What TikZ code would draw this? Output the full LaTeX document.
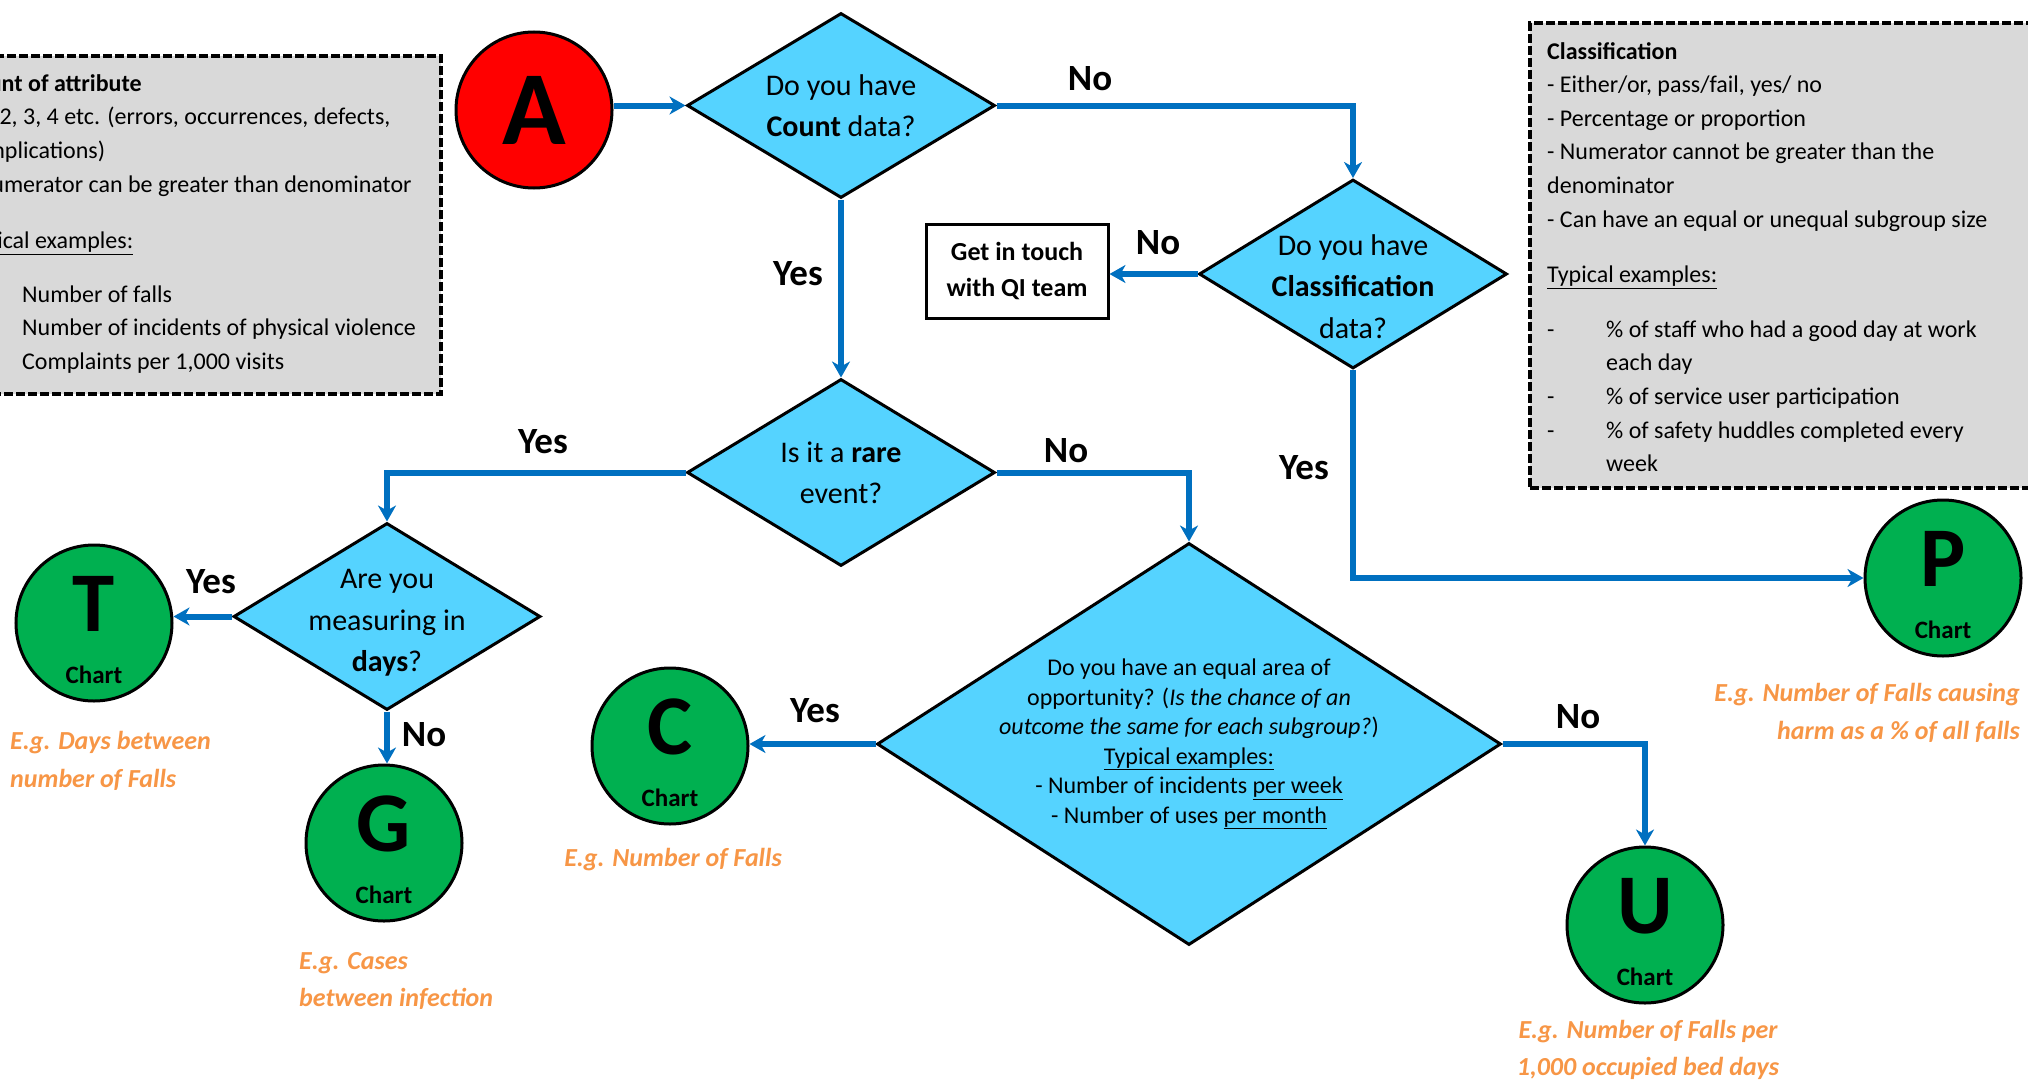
\documentclass[tikz,border=0pt]{standalone}
\usepackage{fontspec}
\setmainfont{Carlito}
\usetikzlibrary{shapes.geometric,arrows.meta}

\definecolor{askblue}{HTML}{55D3FF}
\definecolor{chartgreen}{HTML}{00B050}
\definecolor{startred}{HTML}{FF0000}
\definecolor{flowblue}{HTML}{0070C0}
\definecolor{boxgrey}{HTML}{D9D9D9}
\definecolor{noteorange}{HTML}{F79646}

\newcommand\infofont{\fontsize{24}{33.6}\selectfont}
\newcommand\askfont{\fontsize{30}{41.4}\selectfont}
\newcommand\bigaskfont{\fontsize{24}{29.5}\selectfont}
\newcommand\answerfont{\fontsize{37}{40}\selectfont\bfseries}
\newcommand\notefont{\fontsize{26}{37.5}\selectfont\bfseries\itshape}
\newcommand\startfont{\fontsize{105}{105}\selectfont\bfseries}
\newcommand\letterfont{\fontsize{85}{85}\selectfont\bfseries}
\newcommand\chartfont{\fontsize{25}{25}\selectfont\bfseries}
\newcommand\qifont{\fontsize{26}{36}\selectfont\bfseries}
\newcommand\itemdash{\makebox[59pt][l]{-}}
\newcommand\itemskip{\hspace*{59pt}}

\begin{document}
\begin{tikzpicture}[
x=1pt, y=-1pt,
decision/.style={
  diamond,
  aspect=1.65,
  draw=black,
  line width=3pt,
  fill=askblue,
  inner sep=-20pt,
  align=center,
  font=\askfont
  },
start/.style={
  circle,
  draw=black,
  line width=3pt,
  fill=startred,
  minimum size=156pt,
  inner sep=0pt,
  font=\startfont
  },
chart/.style={
  circle,
  draw=black,
  line width=3pt,
  fill=chartgreen,
  minimum size=156pt,
  inner sep=0pt,
  label={[yshift=19pt, font=\letterfont]center:#1},
  label={[yshift=-52pt, font=\chartfont]center:Chart}
  },
qibox/.style={
  rectangle,
  draw=black,
  line width=3pt,
  minimum width=182pt,
  minimum height=94pt,
  align=center,
  font=\qifont
  },
infobox/.style={
  rectangle,
  draw=black,
  fill=boxgrey,
  line width=3.5pt,
  dash pattern=on 9pt off 3pt,
  inner sep=0pt
  },
boxtext/.style={
  font=\infofont,
  align=left,
  inner sep=0pt,
  anchor=west
  },
answer/.style={
  font=\answerfont,
  inner sep=0pt
  },
note/.style={
  font=\notefont,
  text=noteorange,
  inner sep=0pt
  },
flow/.style={
  ->,
  draw=flowblue,
  line width=6pt
  },
>={Stealth[length=16pt,width=18pt,inset=5pt]}
]
\useasboundingbox (0,0) rectangle (2028,1081);
\clip (0,0) rectangle (2028,1081);

% side boxes
\node[infobox, minimum width=497pt, minimum height=338pt] (countbox) at (192.5,225) {};
\node[boxtext] (counttext) at (-37,224) {%
  \textbf{Count of attribute}\\
  - 1, 2, 3, 4 etc. (errors, occurrences, defects,\\
  complications)\\
  - Numerator can be greater than denominator\\[23pt]
  \underline{Typical examples:}\\[20pt]
  \itemdash Number of falls\\
  \itemdash Number of incidents of physical violence\\
  \itemdash Complaints per 1,000 visits};
\node[infobox, minimum width=530pt, minimum height=465pt] (classbox) at (1795,255.5) {};
\node[boxtext] (classtext) at (1547,257) {%
  \textbf{Classification}\\
  - Either/or, pass/fail, yes/ no\\
  - Percentage or proportion\\
  - Numerator cannot be greater than the\\
  denominator\\
  - Can have an equal or unequal subgroup size\\[22pt]
  \underline{Typical examples:}\\[21pt]
  \itemdash\% of staff who had a good day at work\\
  \itemskip each day\\
  \itemdash\% of service user participation\\
  \itemdash\% of safety huddles completed every\\
  \itemskip week};

% questions
\node[start] (start) at (534,110) {A};
\node[decision, minimum width=308pt, minimum height=185pt] (count) at (841,105.5)
  {Do you have\\\textbf{Count} data?};
\node[decision, minimum width=308pt, minimum height=189pt] (class) at (1353,274)
  {\rule{0pt}{46pt}Do you have\\\textbf{Classification}\\data?};
\node[qibox] (qi) at (1017,271) {Get in touch\\with QI team};
\node[decision, minimum width=308pt, minimum height=187pt] (rare) at (841,472.5)
  {Is it a \textbf{rare}\\event?};
\node[decision, minimum width=307pt, minimum height=187pt] (days) at (387,616.5)
  {\rule{0pt}{32pt}Are you\\measuring in\\\textbf{days}?};
\node[decision, aspect=1.55, minimum width=624pt, minimum height=402pt, font=\bigaskfont] (area) at (1189,744)
  {Do you have an equal area of\\
   opportunity? (\textit{Is the chance of an}\\
   \textit{outcome the same for each subgroup?})\\
   \underline{Typical examples:}\\
   - Number of incidents \underline{per week}\\
   - Number of uses \underline{per month}};

% charts
\node[chart=T] (tchart) at (94,623) {};
\node[chart=G] (gchart) at (384,843) {};
\node[chart=C] (cchart) at (670,746) {};
\node[chart=U] (uchart) at (1645,925) {};
\node[chart=P] (pchart) at (1943,578) {};

% connectors
\draw[flow] (count.west -| start.east) -- (count.west);
\draw[flow] (count.east) -| (class.north);
\draw[flow] (count.south) -- (rare.north);
\draw[flow] (class.west) -- (class.west -| qi.east);
\draw[flow] (class.south) |- (pchart.west);
\draw[flow] (rare.west) -| (days.north);
\draw[flow] (rare.east) -| (area.north);
\draw[flow] (days.west) -- (days.west -| tchart.east);
\draw[flow] (days.south) -- (days.south |- gchart.north);
\draw[flow] (area.west) -- (area.west -| cchart.east);
\draw[flow] (area.east) -| (uchart.north);

% answers
\node[answer] (countno) at (1090,79) {No};
\node[answer] (countyes) at (798,274) {Yes};
\node[answer] (classno) at (1158,243) {No};
\node[answer] (classyes) at (1304,468) {Yes};
\node[answer] (rareyes) at (543,442) {Yes};
\node[answer] (rareno) at (1066,451) {No};
\node[answer] (daysyes) at (211,582) {Yes};
\node[answer] (daysno) at (424,735) {No};
\node[answer] (areayes) at (815,711) {Yes};
\node[answer] (areano) at (1578,717) {No};

% examples
\node[note, anchor=west, align=left] (tnote) at (10,761) {E.g. Days between\\number of Falls};
\node[note, anchor=west, align=left] (gnote) at (299,981) {E.g. Cases\\between infection};
\node[note] (cnote) at (673,860) {E.g. Number of Falls};
\node[note, align=center] (unote) at (1648,1050) {E.g. Number of Falls per\\1,000 occupied bed days};
\node[note, anchor=east, align=right] (pnote) at (2020,713) {E.g. Number of Falls causing\\harm as a \% of all falls};
\end{tikzpicture}
\end{document}
